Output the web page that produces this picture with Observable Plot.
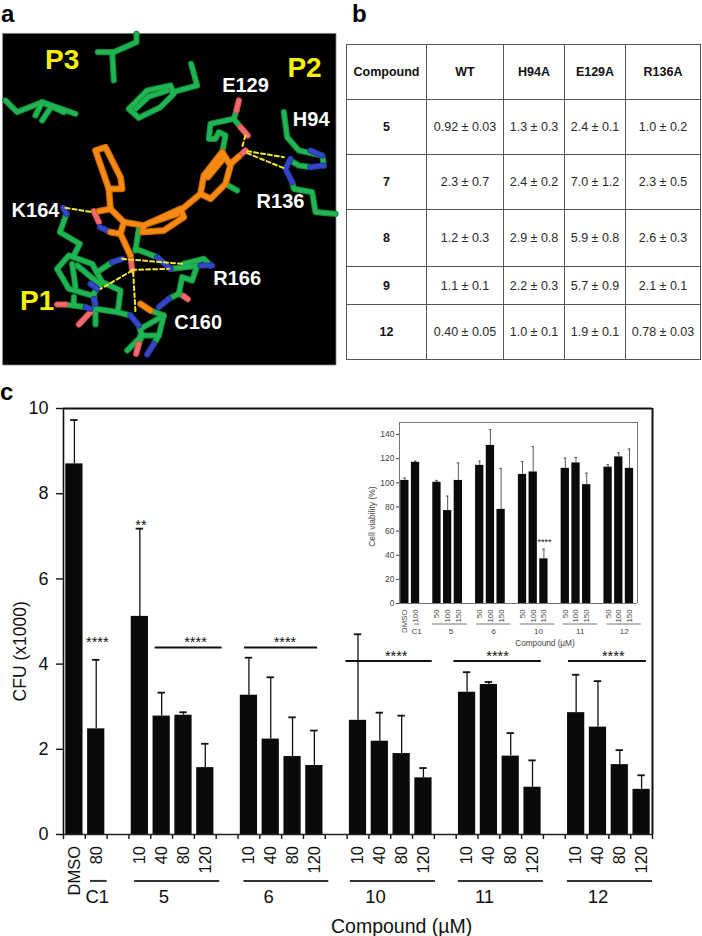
<!DOCTYPE html>
<html><head><meta charset="utf-8">
<script src="https://cdn.jsdelivr.net/npm/d3@7"></script>
<script src="https://cdn.jsdelivr.net/npm/@observablehq/plot@0.6"></script>
<style>
html,body{margin:0;padding:0;background:#fff;}
#page{position:relative;width:702px;height:936px;overflow:hidden;font-family:"Liberation Sans",Arial,sans-serif;}
#page svg{position:absolute;background:transparent;max-width:none;}
.letter{position:absolute;font-weight:bold;font-size:24px;line-height:24px;color:#000;}
#tbl{position:absolute;left:346px;top:44px;border-collapse:collapse;table-layout:fixed;width:354px;font-size:12.5px;color:#2a2a2a;}
#tbl td,#tbl th{border:1.4px solid #555;text-align:center;padding:0;white-space:nowrap;}
#tbl th,#tbl td:first-child{font-weight:bold;color:#111;}
</style></head><body>
<div id="page">
<div class="letter" style="left:1px;top:2px">a</div>
<div class="letter" style="left:352px;top:2px">b</div>
<div class="letter" style="left:0px;top:380px">c</div>
<table id="tbl"></table>
</div>
<script>
// ---------- panel c: main chart ----------
const cfuSlots  = [0,1, 3,4,5,6, 8,9,10,11, 13,14,15,16, 18,19,20,21, 23,24,25,26];
const cfuDoses  = ["DMSO","80","10","40","80","120","10","40","80","120","10","40","80","120","10","40","80","120","10","40","80","120"];
const cfuMeans  = [8.7,2.48, 5.12,2.78,2.8,1.57, 3.27,2.24,1.83,1.62, 2.68,2.19,1.9,1.33, 3.34,3.52,1.84,1.11, 2.86,2.52,1.64,1.06];
const cfuTops   = [9.73,4.1, 7.18,3.33,2.87,2.13, 4.15,3.69,2.75,2.44, 4.7,2.86,2.79,1.56, 3.81,3.58,2.38,1.74, 3.75,3.6,1.98,1.39];
const cfuGroups = ["C1","5","6","10","11","12"];
const cfuGroupStart = [1.24,3.26,8.27,13.15,18.1,23.1];
const cfuGroupEnd   = [2.0,7.16,12.16,17.05,22.0,27.0];
const cfuGroupLabel = [1.55,4.6,9.4,14.3,19.3,24.5];
const sigStart = [4.2,8.3,12.95,17.9,23.15];
const sigEnd   = [7.27,11.65,16.9,21.9,26.72];
const sigLevel = [4.39,4.39,4.07,4.07,4.07];
const starX    = [1.55,6.05,10.15,15.25,19.9,25.2,3.55];
const starY    = [4.5,4.5,4.5,4.17,4.17,4.17,7.25];
const starText = ["****","****","****","****","****","****","**"];

// ---------- panel c: inset ----------
const vSlots = [0,1, 3,4,5, 7,8,9, 11,12,13, 15,16,17, 19,20,21];
const vDoses = ["DMSO","100","50","100","150","50","100","150","50","100","150","50","100","150","50","100","150"];
const vMeans = [102,117, 100.5,77,102, 114.5,131,78, 107,109,37, 112,116.5,98.5, 113,121.5,112];
const vTops  = [104,118, 102,89,116.5, 118,144,112, 117.5,130,45, 120.5,121,108, 115,125,128];
const vGroups = ["C1","5","6","10","11","12"];
const vGroupStart = [1.4,3.09,7.2,11.3,15.3,19.4];
const vGroupEnd   = [1.9,6.37,10.4,14.5,18.55,22.6];
const vGroupLabel = [1.6,4.8,8.8,13,16.9,21];

// ---------- panel b: table ----------
const tableHead = ["Compound","WT","H94A","E129A","R136A"];
const tableRows = [
  ["5","0.92 ± 0.03","1.3 ± 0.3","2.4 ± 0.1","1.0 ± 0.2"],
  ["7","2.3 ± 0.7","2.4 ± 0.2","7.0 ± 1.2","2.3 ± 0.5"],
  ["8","1.2 ± 0.3","2.9 ± 0.8","5.9 ± 0.8","2.6 ± 0.3"],
  ["9","1.1 ± 0.1","2.2 ± 0.3","5.7 ± 0.9","2.1 ± 0.1"],
  ["12","0.40 ± 0.05","1.0 ± 0.1","1.9 ± 0.1","0.78 ± 0.03"]];
const tableColWidths = [80,77,61,61,75];
const tableRowHeights = [55,55,55,57,38,55];

// ---------- panel a: structure sticks ----------
const greenSticks = [
 [[292,155],[340,155],[408,125],[408,100]], [[335,155],[340,240]],
 [[385,325],[440,270],[510,255],[520,280],[480,320],[415,352],[385,325]], [[405,325],[445,288],[500,270]],
 [[515,275],[590,255],[572,190]],
 [[15,300],[50,335],[125,305],[190,335]], [[125,305],[225,340]], [[125,305],[105,345]], [[150,322],[125,360]],
 [[708,330],[700,355],[630,370],[625,415],[645,415],[655,395],[675,405],[665,455]],
 [[700,355],[720,380]],
 [[850,335],[860,410],[895,450],[965,465],[970,495]], [[930,500],[895,495],[870,480]],
 [[875,545],[880,565],[935,575],[945,635],[1005,640]],
 [[198,640],[178,695],[238,730],[220,765]],
 [[170,805],[205,765],[275,790],[305,845],[275,885],[205,865],[170,805]], [[215,790],[225,860]], [[230,795],[290,845]],
 [[290,815],[335,785]],
 [[305,845],[360,870],[352,935],[390,945]], [[280,885],[285,925],[352,935]], [[195,912],[255,920]], [[270,935],[285,925]], [[285,940],[285,972]], [[220,890],[220,910]],
 [[415,975],[425,1005],[380,1050]], [[420,985],[490,945],[475,1005],[460,1030]], [[420,1005],[475,1005]], [[415,1030],[425,1005]],
 [[450,930],[490,945]], [[505,895],[535,880],[545,830]], [[535,880],[550,887]],
 [[545,830],[575,840],[590,795]], [[550,790],[610,775],[630,795]], [[510,805],[600,795]],
 [[415,685],[405,750]], [[405,745],[470,770]],
 [[675,550],[710,570]]
];
const orangeSticks = [
 [[285,450],[315,440],[360,530],[365,565],[325,565],[285,450]], [[325,565],[330,625]],
 [[295,632],[330,625],[370,665],[360,700],[330,695]],
 [[370,665],[430,675]], [[430,675],[540,625],[550,650],[490,690],[425,695],[430,675]], [[445,668],[530,640]],
 [[540,630],[600,580]], [[600,580],[610,525],[665,455],[690,495],[675,550],[630,595],[600,580]], [[622,530],[668,475]],
 [[690,490],[715,468]],
 [[360,700],[390,765]], [[420,910],[450,930]]
];
const redSticks = [
 [[715,300],[708,330]], [[720,380],[742,405]], [[715,468],[735,450]], [[280,632],[295,665]], [[390,765],[395,810]],
 [[170,912],[195,912]], [[235,972],[270,935]], [[407,1060],[415,1030]], [[550,887],[562,896]]
];
const blueSticks = [
 [[188,622],[198,640]], [[870,475],[855,505],[875,545]], [[970,495],[930,500]], [[298,680],[330,695]], [[335,785],[365,775]],
 [[470,770],[510,805]], [[600,795],[635,795]], [[505,895],[475,920]], [[390,945],[415,975]], [[440,1062],[460,1030]], [[930,450],[965,465]],
 [[270,850],[290,865]], [[255,920],[270,925]], [[280,895],[285,910]]
];
const yellowDashes = [
 [[195,622],[275,635]], [[735,405],[725,440]], [[740,452],[850,470]], [[740,458],[855,505]],
 [[395,810],[300,865]], [[395,808],[505,805]], [[398,815],[405,935]], [[365,775],[545,790]]
];
const whiteLabels = ["E129","H94","R136","K164","R166","C160"];
const whiteX = [735,932,840,105,710,593];
const whiteY = [255,358,602,630,835,965];
const yellowLabels = ["P3","P2","P1"];
const yellowX = [185,912,110];
const yellowY = [178,203,902];

// ---------- build ----------
const FONT = '"Liberation Sans",Arial,sans-serif';
const toRows = sets => sets.flatMap((pts,id) => pts.map(([x,y]) => ({x,y,id})));
const page = document.getElementById("page");

// Panel a
const stick = (sets,edge,core,w) => [
  Plot.line(toRows(sets),{x:"x",y:"y",z:"id",stroke:edge,strokeWidth:w,strokeLinecap:"round",strokeLinejoin:"round"}),
  Plot.line(toRows(sets),{x:"x",y:"y",z:"id",stroke:core,strokeWidth:w*0.68,strokeLinecap:"round",strokeLinejoin:"round"})
];
const panelA = Plot.plot({
  width:345,height:375,margin:0,
  style:{fontFamily:FONT,background:"transparent"},
  x:{domain:[0,1035],range:[0,345],axis:null},
  y:{domain:[0,1125],range:[0,375],axis:null},
  marks:[
    Plot.rect([0],{x1:()=>8,x2:()=>1008,y1:()=>100,y2:()=>1095,fill:"#000",stroke:"#888",strokeWidth:0.8}),
    stick(greenSticks,"#14893c","#1fb552",6.2),
    stick(redSticks,"#d94a4f","#f06c6c",6.2),
    stick(blueSticks,"#27349e","#3347c8",6.2),
    Plot.line(toRows(yellowDashes),{x:"x",y:"y",z:"id",stroke:"#f4e82e",strokeWidth:2,strokeDasharray:"4,3"}),
    stick(orangeSticks,"#c96400","#f58a15",6.8),
    Plot.text(whiteLabels,{x:(d,i)=>whiteX[i],y:(d,i)=>whiteY[i],text:d=>d,fill:"#fff",fontSize:20,fontWeight:"bold"}),
    Plot.text(yellowLabels,{x:(d,i)=>yellowX[i],y:(d,i)=>yellowY[i],text:d=>d,fill:"#f6f000",fontSize:28,fontWeight:"bold"})
  ]
});
panelA.style.left="0px"; panelA.style.top="0px";
page.appendChild(panelA);

// Panel b
const tbl = d3.select("#tbl");
tbl.append("colgroup").selectAll("col").data(tableColWidths).join("col").style("width",d=>d+"px");
const rowsAll = [tableHead,...tableRows];
tbl.selectAll("tr").data(rowsAll).join("tr").style("height",(d,i)=>tableRowHeights[i]+"px")
  .each(function(r,i){ d3.select(this).selectAll("td,th").data(r).join(i===0?"th":"td").text(d=>d); });

// Panel c main
const cfu = cfuSlots.map((s,i)=>({s,dose:cfuDoses[i],v:cfuMeans[i],t:cfuTops[i]}));
const groupRows = cfuGroups.map((g,i)=>({g,a:cfuGroupStart[i],b:cfuGroupEnd[i],m:cfuGroupLabel[i]}));
const sigRows = sigStart.map((a,i)=>({a,b:sigEnd[i],y:sigLevel[i]}));
const starRows = starText.map((t,i)=>({t,x:starX[i],y:starY[i]}));
const main = Plot.plot({
  width:702,height:556,marginLeft:63,marginRight:50,marginTop:28,marginBottom:102,
  style:{fontFamily:FONT,background:"transparent",color:"#111"},
  x:{domain:[0,27],axis:null},
  y:{domain:[0,10],axis:null},
  marks:[
    Plot.axisY({ticks:[0,2,4,6,8,10],tickSize:7,fontSize:18,label:null,tickPadding:8,strokeWidth:1.4}),
    Plot.axisX({ticks:d3.range(0,28),tickSize:5,tickFormat:()=>"",label:null,strokeWidth:1.4}),
    Plot.ruleY([10],{stroke:"#111",strokeWidth:2}),
    Plot.ruleX([27],{stroke:"#111",strokeWidth:2}),
    Plot.ruleX([0],{stroke:"#111",strokeWidth:1.6}),
    Plot.rectY(cfu,{x1:"s",x2:d=>d.s+1,y:"v",fill:"#0a0a0a",insetLeft:2.3,insetRight:2.3}),
    Plot.ruleY([0],{stroke:"#222",strokeWidth:1.6}),
    Plot.ruleX(cfu,{x:d=>d.s+0.5,y1:"v",y2:"t",stroke:"#111",strokeWidth:1.3}),
    Plot.ruleY(cfu,{y:"t",x1:d=>d.s+0.33,x2:d=>d.s+0.67,stroke:"#111",strokeWidth:1.8}),
    Plot.text(cfu,{x:d=>d.s+0.5,y:0,text:"dose",rotate:-90,textAnchor:"end",dy:11.5,fontSize:16.5}),
    Plot.ruleY(groupRows,{y:()=>-1.09,x1:"a",x2:"b",stroke:"#333",strokeWidth:2}),
    Plot.text(groupRows,{x:"m",y:()=>-1.46,text:"g",fontSize:18.5}),
    Plot.ruleY(sigRows,{y:"y",x1:"a",x2:"b",stroke:"#111",strokeWidth:2}),
    Plot.text(starRows,{x:"x",y:"y",text:"t",fontSize:14.5,dy:0}),
    Plot.text(["Compound (µM)"],{x:()=>15.5,y:()=>-2.16,text:d=>d,fontSize:19.5}),
    Plot.text(["CFU (x1000)"],{x:()=>-1.98,y:()=>4.3,text:d=>d,rotate:-90,fontSize:17.5})
  ]
});
main.style.left="0px"; main.style.top="380px";
page.appendChild(main);

// Inset
const vRows = vSlots.map((s,i)=>({s,dose:vDoses[i],v:vMeans[i],t:vTops[i]}));
const vGroupRows = vGroups.map((g,i)=>({g,a:vGroupStart[i],b:vGroupEnd[i],m:vGroupLabel[i]}));
const inset = Plot.plot({
  width:300,height:240,marginLeft:39,marginRight:23,marginTop:12,marginBottom:47,
  style:{fontFamily:FONT,background:"transparent",color:"#444"},
  x:{domain:[0,22.25],axis:null},
  y:{domain:[0,150],axis:null},
  marks:[
    Plot.axisY({ticks:d3.range(0,141,20),tickSize:3,fontSize:8.5,label:null,tickPadding:2}),
    Plot.ruleY([150],{stroke:"#777"}),
    Plot.ruleX([0],{stroke:"#777"}),
    Plot.ruleX([22.25],{stroke:"#777"}),
    Plot.rectY(vRows,{x1:"s",x2:d=>d.s+1,y:"v",fill:"#0a0a0a",insetLeft:1.2,insetRight:1.2}),
    Plot.ruleY([0],{stroke:"#777",strokeWidth:1.2}),
    Plot.ruleX(vRows,{x:d=>d.s+0.5,y1:"v",y2:"t",stroke:"#333",strokeWidth:0.8}),
    Plot.ruleY(vRows,{y:"t",x1:d=>d.s+0.38,x2:d=>d.s+0.62,stroke:"#333",strokeWidth:0.8}),
    Plot.text(vRows,{x:d=>d.s+0.5,y:0,text:"dose",rotate:-90,textAnchor:"end",dy:6,fontSize:7.8,fill:"#444"}),
    Plot.ruleY(vGroupRows,{y:()=>-17,x1:"a",x2:"b",stroke:"#777",strokeWidth:1}),
    Plot.text(vGroupRows,{x:"m",y:()=>-23,text:"g",fontSize:8,fill:"#444"}),
    Plot.text(["****"],{x:()=>13.55,y:()=>51,text:d=>d,fontSize:9,fill:"#111"}),
    Plot.text(["Compound (µM)"],{x:()=>13.6,y:()=>-33,text:d=>d,fontSize:8.2,fill:"#444"}),
    Plot.text(["Cell viability (%)"],{x:()=>-2.5,y:()=>72,text:d=>d,rotate:-90,fontSize:8.5,fill:"#444"})
  ]
});
inset.style.left="360px"; inset.style.top="410px";
page.appendChild(inset);
</script>
</body></html>
